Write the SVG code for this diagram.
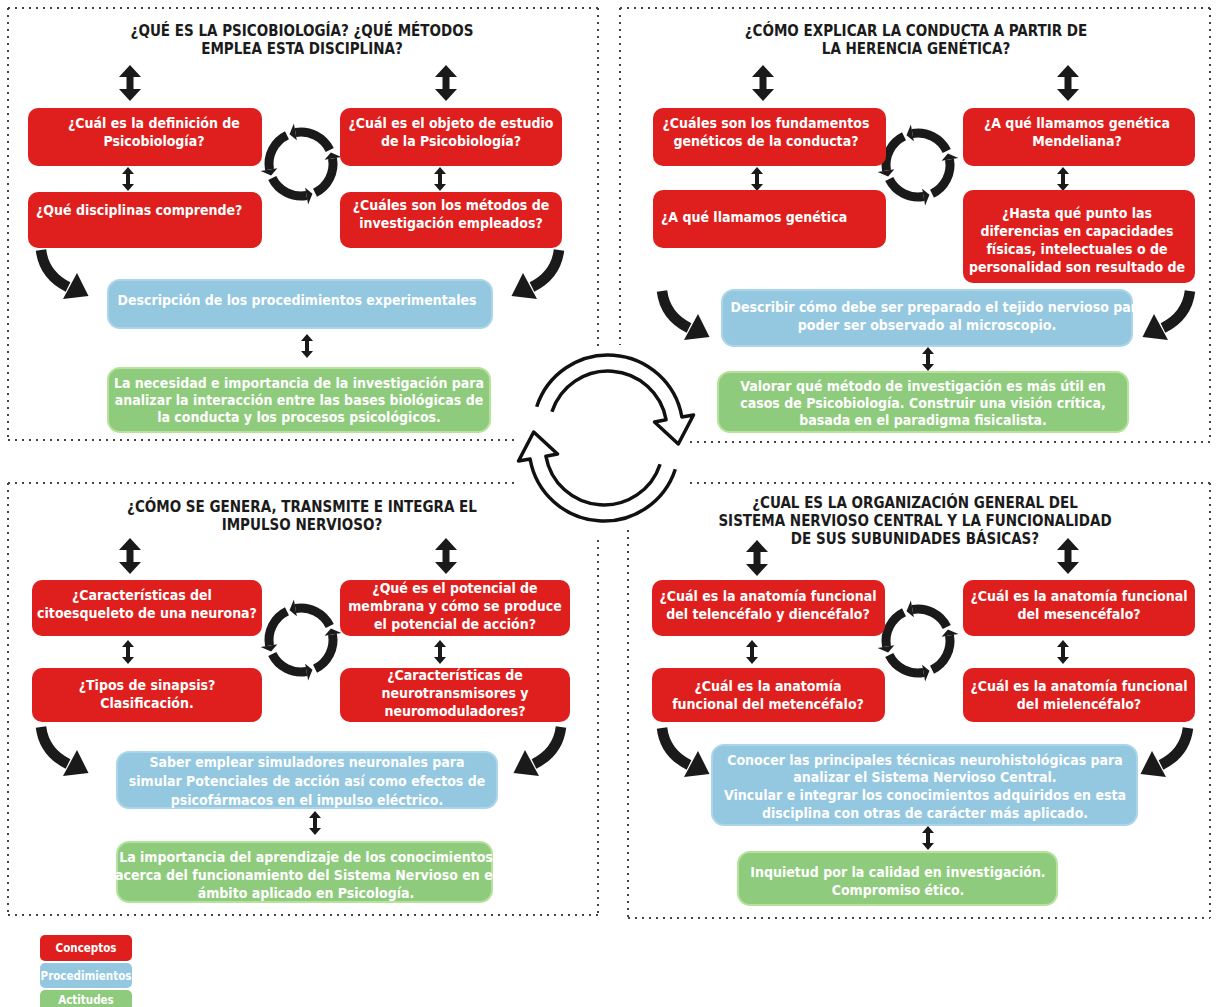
<svg xmlns="http://www.w3.org/2000/svg" xmlns:xlink="http://www.w3.org/1999/xlink" width="1217" height="1007" viewBox="0 0 1217 1007">
<style>
.t{font-family:'Liberation Sans Narrow','DejaVu Sans Condensed','Roboto Condensed',Roboto,sans-serif;font-weight:bold;font-stretch:condensed}
.title{font-size:15px;fill:#1b1b1b;text-anchor:middle}
.w{font-size:14px;fill:#fff;text-anchor:middle}
.wl{font-size:14px;fill:#fff}
.lg{font-size:11.5px;fill:#fff;text-anchor:middle}
.red{fill:#DF1F1E}
.blue{fill:#94C7E0;stroke:#AAD5EA;stroke-width:2}
.green{fill:#8FCB7C;stroke:#B6E29C;stroke-width:2}
.dot{stroke:#444;stroke-width:2;stroke-dasharray:2 5;fill:none}
.blk{fill:#1a1a1a}
.big{fill:#fff;stroke:#111;stroke-width:3.5;stroke-linejoin:round}
</style>
<defs>
<polygon id="dbig" points="0,0 11,12 3.5,12 3.5,24 11,24 0,36 -11,24 -3.5,24 -3.5,12 -11,12"/>
<polygon id="dsm" points="0,0 6,7 2,7 2,17 6,17 0,24 -6,17 -2,17 -2,7 -6,7"/>
<g id="curve">
<path d="M0 0 Q3 25 27 37" fill="none" stroke="#1a1a1a" stroke-width="10.5"/>
<polygon points="22,49 36,23 47.5,46" fill="#1a1a1a"/>
</g>
<g id="cycle" fill="none" stroke="#1a1a1a" stroke-width="9">
<path d="M28.76,-14.03 A32 32 0 0 0 -5.56,-31.51"/>
<path d="M-14.03,-28.76 A32 32 0 0 0 -31.51,5.56"/>
<path d="M-28.76,14.03 A32 32 0 0 0 5.56,31.51"/>
<path d="M14.03,28.76 A32 32 0 0 0 31.51,-5.56"/>
<g fill="#1a1a1a" stroke="none">
<polygon points="-4.17,-23.64 -7.12,-40.38 -11.47,-29.87"/>
<polygon points="-23.64,4.17 -40.38,7.12 -29.87,11.47"/>
<polygon points="4.17,23.64 7.12,40.38 11.47,29.87"/>
<polygon points="23.64,-4.17 40.38,-7.12 29.87,-11.47"/>
</g>
</g>
</defs>

<g id="borders">
<path class="dot" d="M8 8H598M8 8V440M8 440H517M598 8V350"/>
<path class="dot" d="M620 8H1210M620 8V345M1210 8V442M690 442H1210"/>
<path class="dot" d="M8 483H515M8 483V915M8 915H598M598 540V915"/>
<path class="dot" d="M690 483H1210M628 530V918M628 918H1210M1210 483V918"/>
</g>

<g id="connectors" class="blk">
<use href="#dbig" x="130" y="65"/><use href="#dbig" x="446" y="65"/>
<use href="#dsm" x="128" y="167"/><use href="#dsm" x="440" y="167"/>
<use href="#dsm" x="307" y="334"/>
<use href="#dbig" x="763" y="65"/><use href="#dbig" x="1068" y="65"/>
<use href="#dsm" x="757" y="167"/><use href="#dsm" x="1063" y="167"/>
<use href="#dsm" x="928" y="347"/>
<use href="#dbig" x="130" y="538"/><use href="#dbig" x="446" y="538"/>
<use href="#dsm" x="128" y="640"/><use href="#dsm" x="440" y="640"/>
<use href="#dsm" x="315" y="811"/>
<use href="#dbig" x="757" y="540"/><use href="#dbig" x="1068" y="538"/>
<use href="#dsm" x="752" y="640"/><use href="#dsm" x="1063" y="640"/>
<use href="#dsm" x="928" y="826"/>
<use href="#curve" transform="translate(41 250)"/>
<use href="#curve" transform="translate(559 250) scale(-1 1)"/>
<use href="#curve" transform="translate(662 291)"/>
<use href="#curve" transform="translate(1190 291) scale(-1 1)"/>
<use href="#curve" transform="translate(41 727)"/>
<use href="#curve" transform="translate(561 727) scale(-1 1)"/>
<use href="#curve" transform="translate(662 728)"/>
<use href="#curve" transform="translate(1188 728) scale(-1 1)"/>
<use href="#cycle" x="301" y="164"/>
<use href="#cycle" x="918" y="165"/>
<use href="#cycle" x="301" y="640"/>
<use href="#cycle" x="918" y="641"/>
<path class="big" d="M536.7,406.8 A75 75 0 0 1 681.9,417 L693.5,415 L678.3,444 L654.5,422 L666.1,419.8 A59 59 0 0 0 551.9,411.8"/>
<path class="big" transform="rotate(180 606 438)" d="M536.7,406.8 A75 75 0 0 1 681.9,417 L693.5,415 L678.3,444 L654.5,422 L666.1,419.8 A59 59 0 0 0 551.9,411.8"/>
</g>

<g id="q1" class="t">
<text class="title" x="302" y="36">¿QUÉ ES LA PSICOBIOLOGÍA? ¿QUÉ MÉTODOS</text>
<text class="title" x="302" y="54">EMPLEA ESTA DISCIPLINA?</text>
<g id="q1-c1"><rect class="red" x="28" y="108" width="234" height="58" rx="10"/>
<text class="w" x="154" y="128">¿Cuál es la definición de</text><text class="w" x="154" y="146">Psicobiología?</text></g>
<g id="q1-c2"><rect class="red" x="340" y="108" width="222" height="58" rx="10"/>
<text class="w" x="451" y="128">¿Cuál es el objeto de estudio</text><text class="w" x="451" y="146">de la Psicobiología?</text></g>
<g id="q1-c3"><rect class="red" x="28" y="192" width="234" height="56" rx="10"/>
<text class="wl" x="36" y="215">¿Qué disciplinas comprende?</text></g>
<g id="q1-c4"><rect class="red" x="340" y="192" width="222" height="56" rx="10"/>
<text class="w" x="451" y="210">¿Cuáles son los métodos de</text><text class="w" x="451" y="228">investigación empleados?</text></g>
<g id="q1-p"><rect class="blue" x="108" y="280" width="384" height="48" rx="12"/>
<text class="w" x="297" y="305">Descripción de los procedimientos experimentales</text></g>
<g id="q1-a"><rect class="green" x="108" y="368" width="382" height="64" rx="12"/>
<text class="w" x="299" y="388">La necesidad e  importancia de la investigación para</text>
<text class="w" x="299" y="405">analizar la interacción entre las bases biológicas de</text>
<text class="w" x="299" y="422">la conducta y los procesos psicológicos.</text></g>
</g>

<g id="q2" class="t">
<text class="title" x="916" y="36">¿CÓMO EXPLICAR LA CONDUCTA A PARTIR DE</text>
<text class="title" x="916" y="54">LA HERENCIA GENÉTICA?</text>
<g id="q2-c1"><rect class="red" x="653" y="108" width="233" height="58" rx="10"/>
<text class="w" x="766" y="128">¿Cuáles son los fundamentos</text><text class="w" x="766" y="146">genéticos de la conducta?</text></g>
<g id="q2-c2"><rect class="red" x="963" y="108" width="232" height="58" rx="10"/>
<text class="w" x="1077" y="128">¿A qué llamamos genética</text><text class="w" x="1077" y="146">Mendeliana?</text></g>
<g id="q2-c3"><rect class="red" x="653" y="190" width="233" height="58" rx="10"/>
<text class="wl" x="661" y="222">¿A qué llamamos genética</text></g>
<g id="q2-c4"><rect class="red" x="963" y="190" width="232" height="93" rx="10"/>
<text class="w" x="1077" y="218">¿Hasta qué punto las</text><text class="w" x="1077" y="236">diferencias en capacidades</text>
<text class="w" x="1077" y="254">físicas, intelectuales o de</text><text class="w" x="1077" y="272">personalidad son resultado de</text></g>
<g id="q2-p"><rect class="blue" x="722" y="290" width="410" height="56" rx="12"/>
<text class="w" x="938" y="312">Describir cómo debe ser preparado el tejido nervioso para</text>
<text class="w" x="927" y="330">poder ser observado al microscopio.</text></g>
<g id="q2-a"><rect class="green" x="718" y="372" width="410" height="60" rx="12"/>
<text class="w" x="923" y="391">Valorar qué método de investigación es más útil en</text>
<text class="w" x="923" y="408">casos de Psicobiología. Construir una visión crítica,</text>
<text class="w" x="923" y="425">basada en el paradigma fisicalista.</text></g>
</g>

<g id="q3" class="t">
<text class="title" x="302" y="512">¿CÓMO SE GENERA, TRANSMITE E INTEGRA EL</text>
<text class="title" x="302" y="530">IMPULSO NERVIOSO?</text>
<g id="q3-c1"><rect class="red" x="32" y="580" width="230" height="56" rx="10"/>
<text class="w" x="142" y="600">¿Características del</text><text class="w" x="147" y="618">citoesqueleto de una neurona?</text></g>
<g id="q3-c2"><rect class="red" x="340" y="580" width="230" height="56" rx="10"/>
<text class="w" x="455" y="593">¿Qué es el potencial de</text><text class="w" x="455" y="611">membrana y cómo se produce</text><text class="w" x="455" y="629">el potencial de acción?</text></g>
<g id="q3-c3"><rect class="red" x="32" y="668" width="230" height="54" rx="10"/>
<text class="w" x="147" y="690">¿Tipos de sinapsis?</text><text class="w" x="147" y="708">Clasificación.</text></g>
<g id="q3-c4"><rect class="red" x="340" y="668" width="230" height="54" rx="10"/>
<text class="w" x="455" y="680">¿Características de</text><text class="w" x="455" y="698">neurotransmisores y</text><text class="w" x="455" y="716">neuromoduladores?</text></g>
<g id="q3-p"><rect class="blue" x="117" y="752" width="380" height="56" rx="12"/>
<text class="w" x="307" y="767">Saber emplear simuladores neuronales para</text>
<text class="w" x="307" y="786">simular Potenciales de acción así como efectos de</text>
<text class="w" x="307" y="805">psicofármacos en el impulso eléctrico.</text></g>
<g id="q3-a"><rect class="green" x="117" y="842" width="375" height="60" rx="12"/>
<text class="w" x="306" y="862">La importancia del aprendizaje de los conocimientos</text>
<text class="w" x="306" y="880">acerca del funcionamiento del Sistema Nervioso en el</text>
<text class="w" x="306" y="898">ámbito aplicado en Psicología.</text></g>
</g>

<g id="q4" class="t">
<text class="title" x="915" y="508">¿CUAL ES LA ORGANIZACIÓN GENERAL DEL</text>
<text class="title" x="915" y="526">SISTEMA NERVIOSO CENTRAL Y LA FUNCIONALIDAD</text>
<text class="title" x="915" y="544">DE SUS SUBUNIDADES BÁSICAS?</text>
<g id="q4-c1"><rect class="red" x="652" y="580" width="233" height="56" rx="10"/>
<text class="w" x="768" y="601">¿Cuál es la anatomía funcional</text><text class="w" x="768" y="619">del telencéfalo y diencéfalo?</text></g>
<g id="q4-c2"><rect class="red" x="963" y="580" width="232" height="56" rx="10"/>
<text class="w" x="1079" y="601">¿Cuál es la anatomía funcional</text><text class="w" x="1079" y="619">del mesencéfalo?</text></g>
<g id="q4-c3"><rect class="red" x="652" y="668" width="233" height="54" rx="10"/>
<text class="w" x="768" y="691">¿Cuál es la anatomía</text><text class="w" x="768" y="709">funcional del metencéfalo?</text></g>
<g id="q4-c4"><rect class="red" x="963" y="668" width="232" height="54" rx="10"/>
<text class="w" x="1079" y="691">¿Cuál es la anatomía funcional</text><text class="w" x="1079" y="709">del mielencéfalo?</text></g>
<g id="q4-p"><rect class="blue" x="712" y="745" width="425" height="80" rx="12"/>
<text class="w" x="925" y="765">Conocer las principales técnicas neurohistológicas para</text>
<text class="w" x="925" y="782">analizar el Sistema Nervioso Central.</text>
<text class="w" x="925" y="800">Vincular e integrar los conocimientos adquiridos en esta</text>
<text class="w" x="925" y="818">disciplina con otras de carácter más aplicado.</text></g>
<g id="q4-a"><rect class="green" x="738" y="852" width="319" height="53" rx="12"/>
<text class="w" x="898" y="877">Inquietud por la calidad en investigación.</text>
<text class="w" x="898" y="895">Compromiso ético.</text></g>
</g>

<g id="legend" class="t">
<g id="lg-c"><rect class="red" x="40" y="935" width="92" height="26" rx="5"/><text class="lg" x="86" y="952">Conceptos</text></g>
<g id="lg-p"><rect x="40" y="963" width="92" height="25" rx="5" fill="#94C7E0"/><text class="lg" x="86" y="980">Procedimientos</text></g>
<g id="lg-a"><rect x="40" y="990" width="92" height="22" rx="5" fill="#8FCB7C"/><text class="lg" x="86" y="1004">Actitudes</text></g>
</g>
</svg>
